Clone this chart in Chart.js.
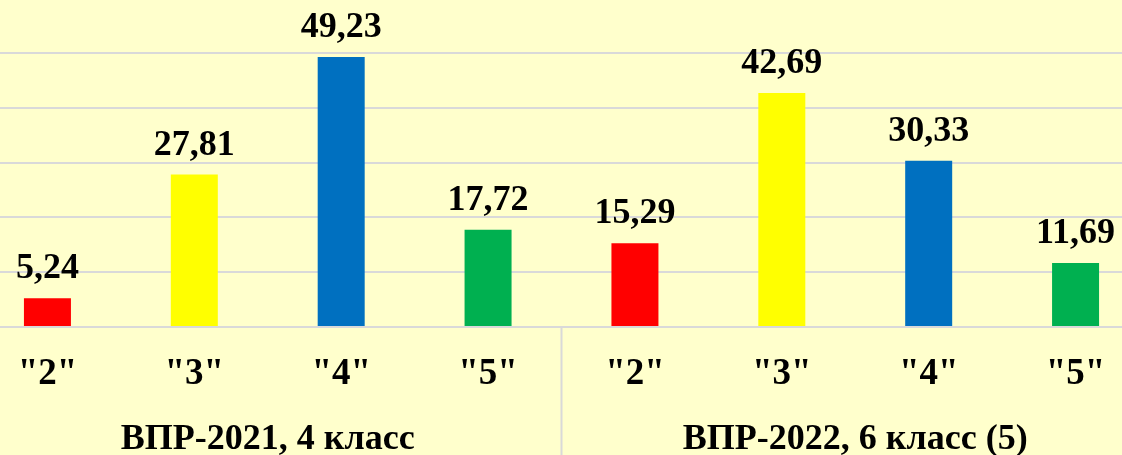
<!DOCTYPE html>
<html>
<head>
<meta charset="utf-8">
<script src="https://cdn.jsdelivr.net/npm/chart.js@4/dist/chart.umd.min.js"></script>
<style>
html,body{margin:0;padding:0;overflow:hidden;background:#FFFFCC;width:1122px;height:455px;}
#wrap{position:absolute;left:-26px;top:-2px;width:1175px;height:457px;}
</style>
</head>
<body>
<div id="wrap"><canvas id="c" width="1175" height="457"></canvas></div>
<script>
const categories = ['"2"', '"3"', '"4"', '"5"', '"2"', '"3"', '"4"', '"5"'];
const groupLabels = ['ВПР-2021, 4 класс', 'ВПР-2022, 6 класс (5)'];
const values = [5.24, 27.81, 49.23, 17.72, 15.29, 42.69, 30.33, 11.69];
const barColors = ['#FF0000', '#FFFF00', '#0070C0', '#00B050', '#FF0000', '#FFFF00', '#0070C0', '#00B050'];

const FONT = '"Liberation Serif", "Times New Roman", serif';

const valueLabels = {
  id: 'valueLabels',
  afterDatasetsDraw(chart) {
    const ctx = chart.ctx;
    const meta = chart.getDatasetMeta(0);
    ctx.save();
    ctx.font = 'bold 36px ' + FONT;
    ctx.fillStyle = '#000';
    ctx.textAlign = 'center';
    ctx.textBaseline = 'alphabetic';
    meta.data.forEach((bar, i) => {
      const txt = values[i].toFixed(2).replace('.', ',');
      ctx.fillText(txt, bar.x, bar.y - 20);
    });
    ctx.restore();
  }
};

const separator = {
  id: 'separator',
  afterDraw(chart) {
    const x = chart.scales.x;
    const px = (x.getPixelForValue(3) + x.getPixelForValue(4)) / 2;
    const ctx = chart.ctx;
    ctx.save();
    ctx.strokeStyle = '#D9D9D9';
    ctx.lineWidth = 2;
    ctx.beginPath();
    ctx.moveTo(px, chart.chartArea.bottom);
    ctx.lineTo(px, chart.height);
    ctx.stroke();
    ctx.restore();
  }
};

new Chart(document.getElementById('c'), {
  type: 'bar',
  data: {
    labels: categories,
    datasets: [{
      data: values,
      backgroundColor: barColors,
      borderWidth: 0,
      barPercentage: 0.32,
      categoryPercentage: 1
    }]
  },
  options: {
    responsive: false,
    animation: false,
    devicePixelRatio: 1,
    layout: { padding: 0 },
    plugins: { legend: { display: false }, tooltip: { enabled: false } },
    scales: {
      y: {
        min: 0, max: 60,
        ticks: { display: false, stepSize: 10 },
        grid: { color: '#D9D9D9', lineWidth: 2, drawTicks: false },
        border: { display: false },
        afterFit(s) { s.width = 0; }
      },
      x: {
        position: 'bottom',
        grid: { display: false, drawTicks: false },
        border: { display: false },
        ticks: { color: '#000', font: { family: FONT, size: 37, weight: 'bold' }, padding: 25, maxRotation: 0, autoSkip: false },
        afterFit(s) { s.height = 64; }
      },
      x2: {
        type: 'category',
        position: 'bottom',
        labels: groupLabels,
        offset: true,
        grid: { display: false, drawTicks: false },
        border: { display: false },
        ticks: { color: '#000', font: { family: FONT, size: 36, weight: 'bold' }, padding: 27, maxRotation: 0, autoSkip: false },
        afterFit(s) { s.height = 64; }
      }
    }
  },
  plugins: [valueLabels, separator]
});
</script>
</body>
</html>
